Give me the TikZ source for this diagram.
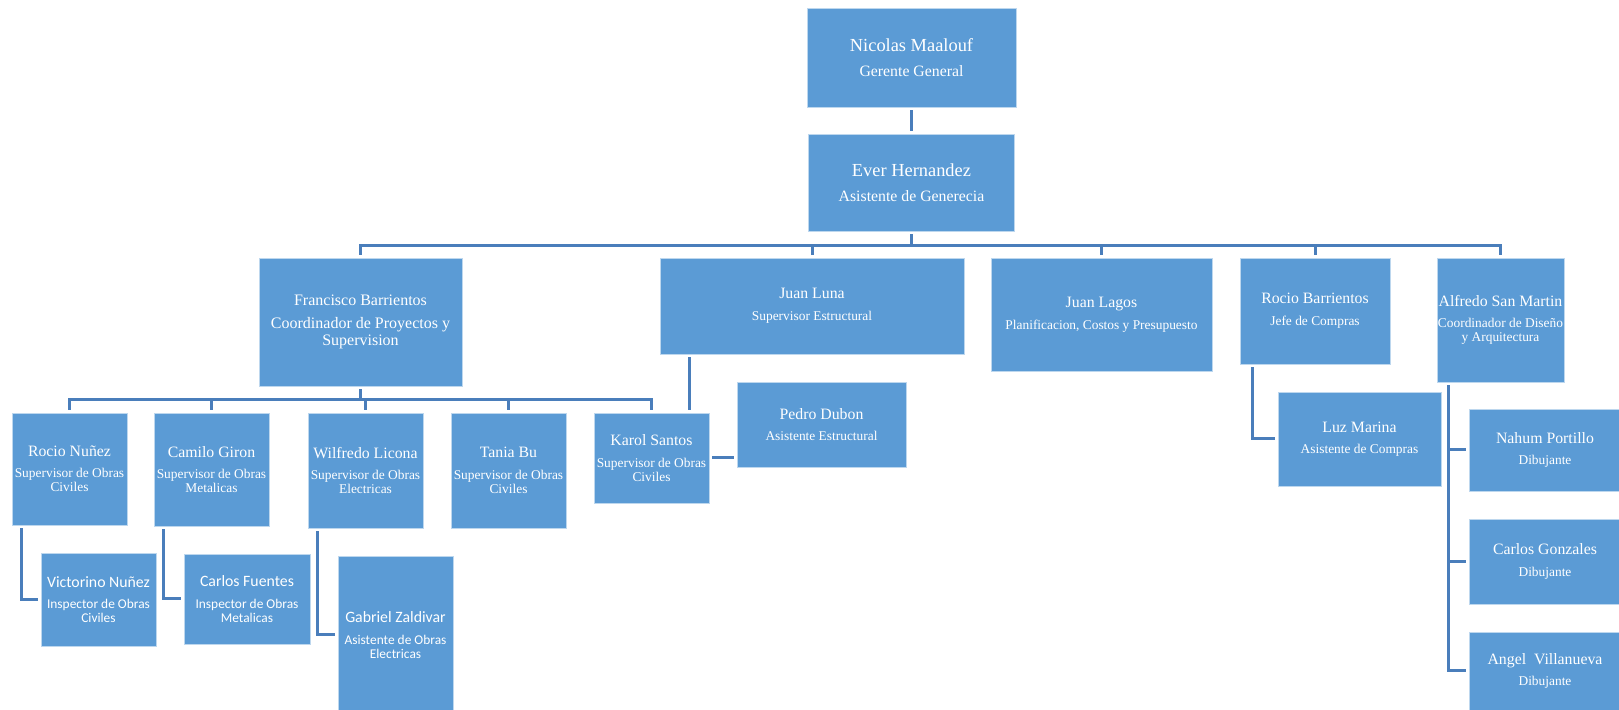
\documentclass[tikz,border=0pt]{standalone}
\usepackage{fontspec}
\setmainfont{Liberation Serif}
\newfontfamily\carlito{Carlito}
\definecolor{boxblue}{RGB}{91,155,213}
\definecolor{boxedge}{RGB}{189,215,238}
\definecolor{linkblue}{RGB}{74,126,187}
\newcommand{\nm}{\fontsize{7.9}{8}\selectfont}
\newcommand{\nmbig}{\fontsize{9.2}{10}\selectfont}

\begin{document}
\begin{tikzpicture}[x=0.5pt,y=-0.5pt,
    box/.style={fill=boxblue,draw=boxedge,line width=0.4pt,text=white,align=center,inner sep=0pt,font=\fontsize{6.7}{7}\selectfont},
    bigbox/.style={box,font=\fontsize{7.9}{8.3}\selectfont},
    sansbox/.style={box,font=\carlito\fontsize{6.7}{7}\selectfont},
    sz/.style 2 args={minimum width=#1*0.5pt,minimum height=#2*0.5pt},
    link/.style={draw=linkblue,line width=1.5pt,shorten <=1.5pt,shorten >=1.5pt}]

    \useasboundingbox (0,0) rectangle (1619,710);

    \node[bigbox,sz={209}{99}] (gg) at (911.5,57.5) {{\nmbig Nicolas Maalouf}\\[4.2pt]Gerente General};
    \node[bigbox,sz={206}{97}] (ag) at (911.5,182.5) {{\nmbig Ever Hernandez}\\[4.2pt]Asistente de Generecia};

    \node[box,font=\fontsize{8}{8.3}\selectfont,sz={203}{128}] (fb) at (360.5,322) {Francisco Barrientos\\[3.4pt]Coordinador de Proyectos y\\Supervision};
    \node[box,sz={304}{96}] (jl) at (812,306) {{\nm Juan Luna}\\[4pt]Supervisor Estructural};
    \node[box,sz={221}{113}] (jg) at (1101.5,314.5) {{\nm Juan Lagos}\\[4pt]Planificacion, Costos y Presupuesto};
    \node[box,sz={150}{106}] (rb) at (1315,311) {{\nm Rocio Barrientos}\\[4pt]Jefe de Compras};
    \node[box,sz={127}{124}] (as) at (1500.5,320) {{\nm Alfredo San Martin}\\[3.8pt]Coordinador de Diseño\\y Arquitectura};

    \node[box,sz={115}{112}] (rn) at (69.5,469) {{\nm Rocio Nuñez}\\[3.7pt]Supervisor de Obras\\Civiles};
    \node[box,sz={115}{113}] (cg) at (211.5,469.5) {{\nm Camilo Giron}\\[3.7pt]Supervisor de Obras\\Metalicas};
    \node[box,sz={115}{115}] (wl) at (365.5,470.5) {{\nm Wilfredo Licona}\\[3.7pt]Supervisor de Obras\\Electricas};
    \node[box,sz={115}{115}] (tb) at (508.5,470.5) {{\nm Tania Bu}\\[3.7pt]Supervisor de Obras\\Civiles};
    \node[box,sz={115}{90}] (ks) at (651.5,458) {{\nm Karol Santos}\\[3.7pt]Supervisor de Obras\\Civiles};
    \node[box,sz={169}{85}] (pd) at (821.5,424.5) {{\nm Pedro Dubon}\\[3.7pt]Asistente Estructural};

    \node[sansbox,sz={115}{93}] (vn) at (98.5,599.5) {{\nm Victorino Nuñez}\\[3.7pt]Inspector de Obras\\Civiles};
    \node[sansbox,sz={126}{90}] (cf) at (247,599) {{\nm Carlos Fuentes}\\[3.7pt]Inspector de Obras\\Metalicas};
    \node[sansbox,sz={115}{158}] (gz) at (395.5,635) {{\nm Gabriel Zaldivar}\\[3.7pt]Asistente de Obras\\Electricas};

    \node[box,sz={163}{94}] (lm) at (1359.5,439) {{\nm Luz Marina}\\[3.7pt]Asistente de Compras};
    \node[box,sz={152}{82}] (np) at (1545,450) {{\nm Nahum Portillo}\\[3.7pt]Dibujante};
    \node[box,sz={152}{85}] (cz) at (1545,561.5) {{\nm Carlos Gonzales}\\[3.7pt]Dibujante};
    \node[box,sz={152}{78}] (av) at (1545,671) {{\nm Angel\ \ Villanueva}\\[3.7pt]Dibujante};

    \draw[link] (gg.south) -- (ag.north);
    \foreach \n in {fb,jl,jg,rb,as}
        \draw[link] (ag.south) -- ++(0,14) -| (\n.north);
    \foreach \n in {rn,cg,wl,tb,ks}
        \draw[link] (fb.south) -- ++(0,13) -| (\n.north);
    \draw[link] ([xshift=-10pt]ks.north east) -- ([xshift=-10pt]ks.north east |- jl.south);
    \draw[link] (ks.east) -- (ks.east -| pd.west);
    \draw[link] ([xshift=5pt]rn.south west) |- (vn.west);
    \draw[link] ([xshift=5pt]cg.south west) |- (cf.west);
    \draw[link] ([xshift=5pt]wl.south west) |- (gz.west);
    \draw[link] ([xshift=6.5pt]rb.south west) |- (lm.west);
    \foreach \n in {np,cz,av}
        \draw[link] ([xshift=5.75pt]as.south west) |- (\n.west);

\end{tikzpicture}
\end{document}
